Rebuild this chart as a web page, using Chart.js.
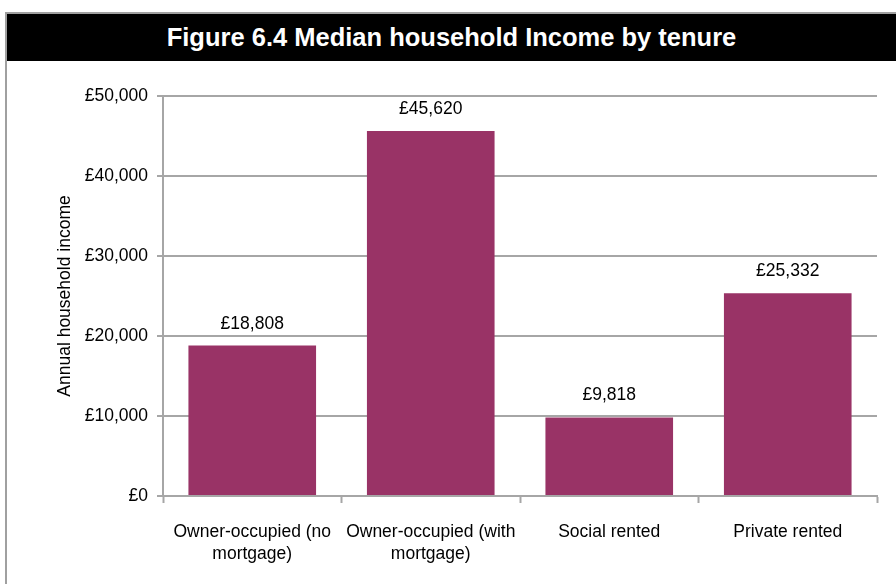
<!DOCTYPE html>
<html>
<head>
<meta charset="utf-8">
<script src="https://cdn.jsdelivr.net/npm/chart.js@4.4.1/dist/chart.umd.min.js"></script>
<style>
  html, body { margin: 0; padding: 0; background: #fff; }
  body { width: 896px; height: 584px; position: relative; overflow: hidden; }
  .frame {
    position: absolute; left: 5px; top: 12px; width: 900px; height: 600px;
    border-left: 2px solid #a0a0a0; border-top: 2px solid #a0a0a0;
  }
  .band {
    position: absolute; left: 7px; top: 14px; width: 889px; height: 47px;
    background: #000; color: #fff;
    font: bold 25.5px "Liberation Sans", Arial, sans-serif;
    text-align: center; line-height: 47px;
  }
  #chart { position: absolute; left: 0; top: 0; }
</style>
</head>
<body>
<div class="frame"></div>
<div class="band">Figure 6.4 Median household Income by tenure</div>
<canvas id="chart" width="896" height="584"></canvas>
<script>
// values
var tenures = [['Owner-occupied (no', 'mortgage)'], ['Owner-occupied (with', 'mortgage)'], 'Social rented', 'Private rented'];
var medianIncome = [18808, 45620, 9818, 25332];
var yAxisTitle = 'Annual household income';
var yMax = 50000;
var yStep = 10000;

var barColour = '#993366';
var gridColour = '#a6a6a6';
var fontFamily = '"Liberation Sans", Arial, sans-serif';

function pounds(v) {
  return '£' + Number(v).toLocaleString('en-GB');
}

// draw the value above each bar
var valueLabels = {
  id: 'valueLabels',
  afterDatasetsDraw: function (chart) {
    var ctx = chart.ctx;
    var meta = chart.getDatasetMeta(0);
    ctx.save();
    ctx.font = '17.5px ' + fontFamily;
    ctx.fillStyle = '#000';
    ctx.textAlign = 'center';
    ctx.textBaseline = 'alphabetic';
    meta.data.forEach(function (bar, i) {
      ctx.fillText(pounds(chart.data.datasets[0].data[i]), bar.x, bar.y - 17);
    });
    ctx.restore();
  }
};

new Chart(document.getElementById('chart'), {
  type: 'bar',
  data: {
    labels: tenures,
    datasets: [{
      data: medianIncome,
      backgroundColor: barColour,
      borderWidth: 0,
      barPercentage: 0.715,
      categoryPercentage: 1
    }]
  },
  options: {
    responsive: false,
    animation: false,
    devicePixelRatio: 1,
    layout: { padding: { left: 50, top: 96, right: 19, bottom: 0 } },
    plugins: {
      legend: { display: false },
      tooltip: { enabled: false }
    },
    scales: {
      x: {
        grid: {
          display: true, drawOnChartArea: false, drawTicks: true,
          tickLength: 7, tickWidth: 2, color: gridColour
        },
        border: { display: true, color: gridColour, width: 2 },
        ticks: {
          color: '#000', padding: 18, maxRotation: 0, autoSkip: false,
          font: { family: fontFamily, size: 17.5, lineHeight: 1.26 }
        },
        afterFit: function (scale) { scale.height = 88; }
      },
      y: {
        min: 0, max: yMax,
        grid: { color: gridColour, lineWidth: 2, tickLength: 6, drawTicks: true },
        border: { display: true, color: gridColour, width: 2 },
        ticks: {
          stepSize: yStep, color: '#000', padding: 9,
          font: { family: fontFamily, size: 17.5 },
          callback: function (v) { return pounds(v); }
        },
        title: {
          display: true, text: yAxisTitle, color: '#000',
          font: { family: fontFamily, size: 17.5 },
          padding: { top: 5, bottom: 0 }
        },
        afterFit: function (scale) { scale.width = 113; }
      }
    }
  },
  plugins: [valueLabels]
});
</script>
</body>
</html>
